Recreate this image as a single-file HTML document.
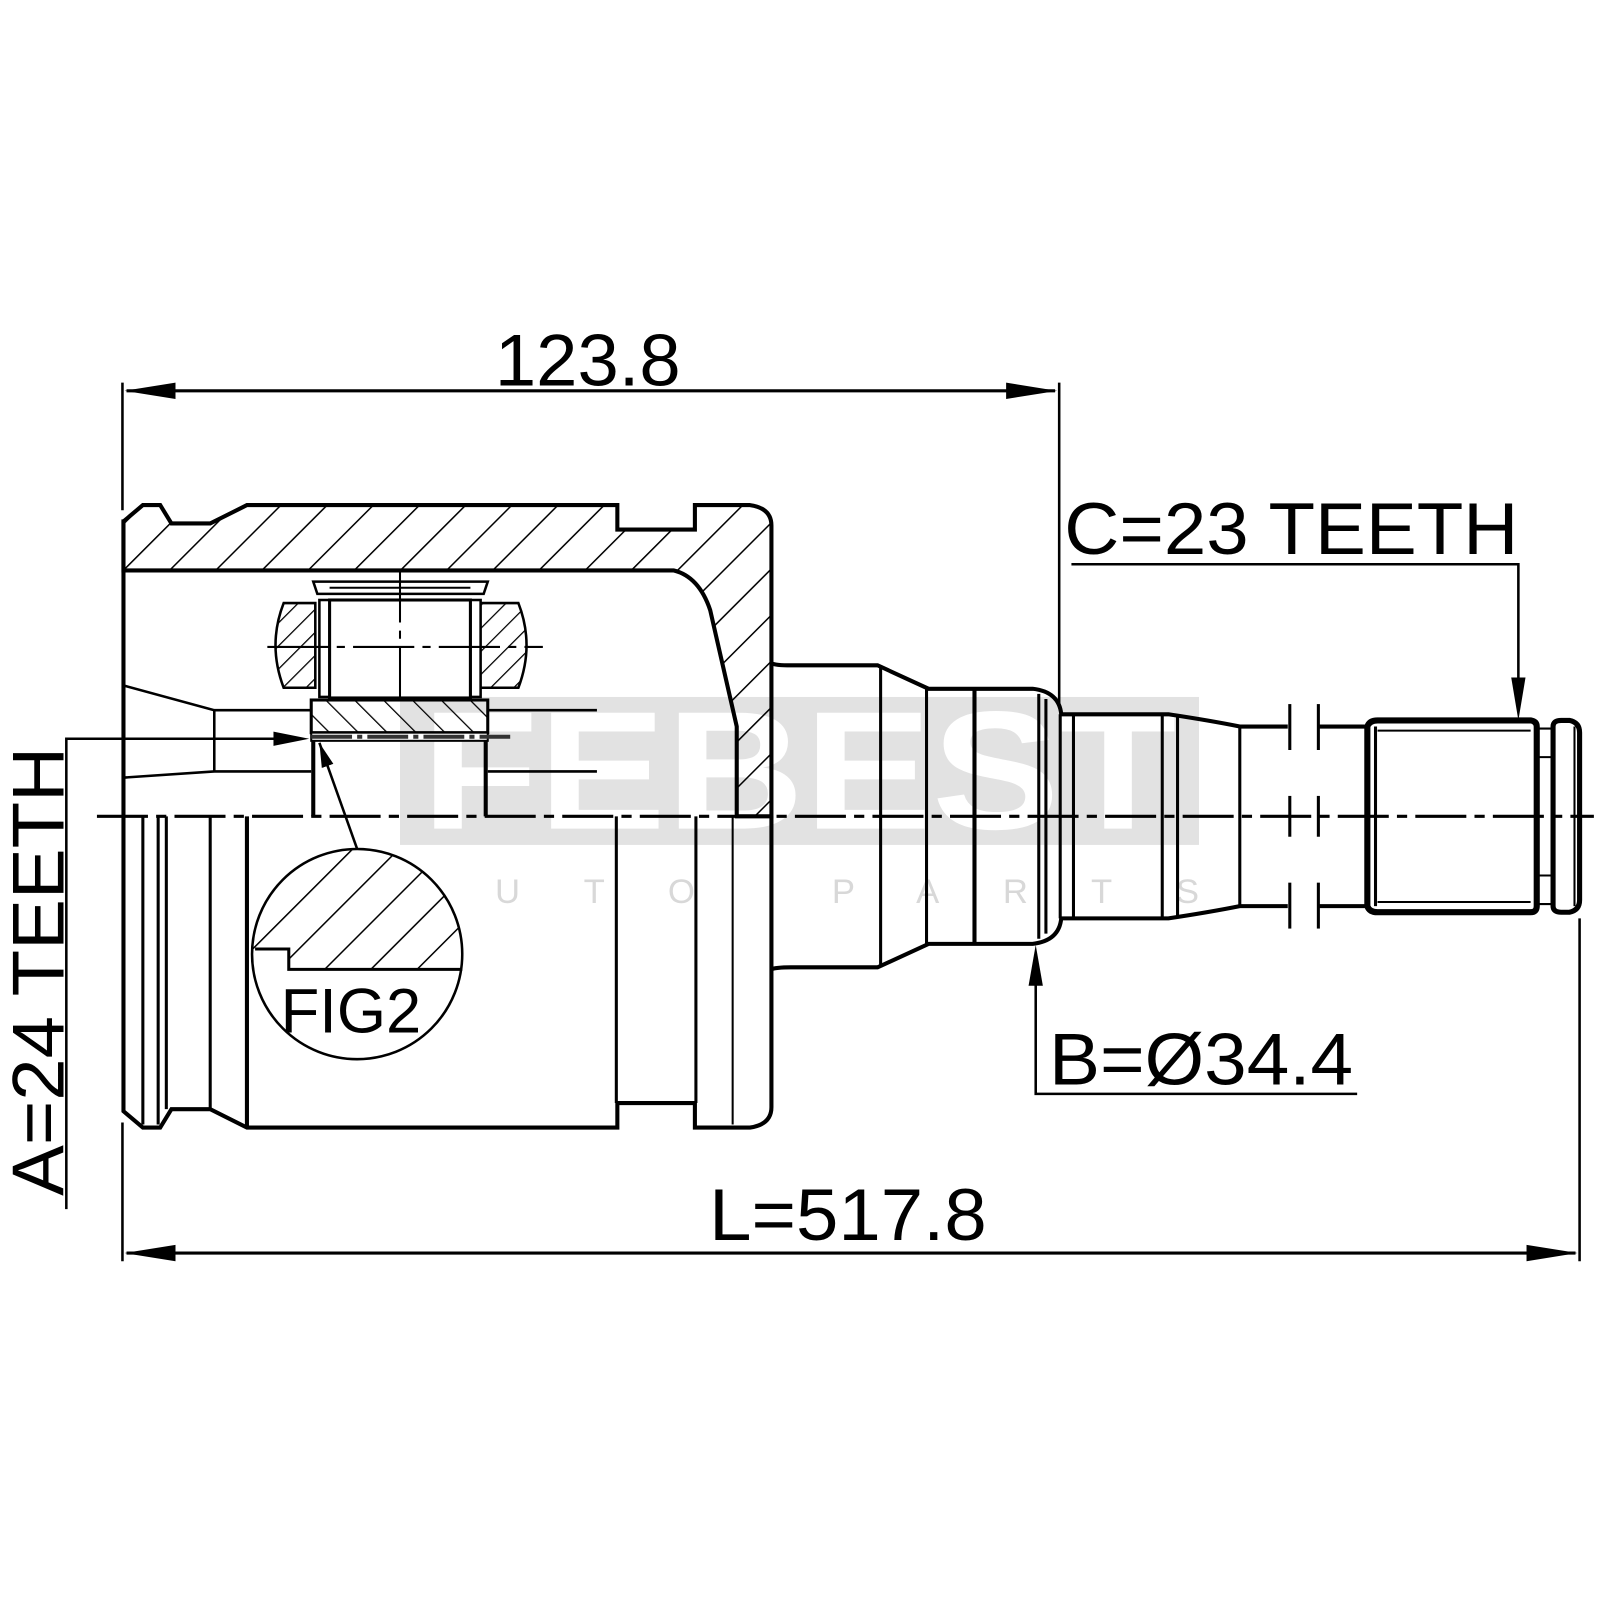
<!DOCTYPE html>
<html><head><meta charset="utf-8"><style>html,body{margin:0;padding:0;background:#fff}svg{display:block}</style></head>
<body>
<svg width="1600" height="1600" viewBox="0 0 1568 1568" xmlns="http://www.w3.org/2000/svg" font-family="Liberation Sans, sans-serif">
<defs>
<pattern id="h" patternUnits="userSpaceOnUse" width="32" height="32" patternTransform="rotate(45)">
<line x1="0" y1="0" x2="0" y2="32" stroke="#000" stroke-width="3"/></pattern>
<pattern id="h2" patternUnits="userSpaceOnUse" width="20" height="20" patternTransform="rotate(-45)">
<line x1="0" y1="0" x2="0" y2="20" stroke="#000" stroke-width="2.5"/></pattern>
<pattern id="h3" patternUnits="userSpaceOnUse" width="16" height="16" patternTransform="rotate(45)">
<line x1="0" y1="0" x2="0" y2="16" stroke="#000" stroke-width="2.5"/></pattern>
<marker id="ar" markerWidth="24" markerHeight="12" refX="24" refY="6" orient="auto" markerUnits="userSpaceOnUse"><path d="M0,0 L24,6 L0,12z"/></marker>
</defs>

<!-- watermark -->
<rect x="392" y="683" width="783" height="145" fill="#e2e2e2"/>
<text x="783" y="812" text-anchor="middle" font-size="165" font-weight="bold" fill="#fff" textLength="740" lengthAdjust="spacingAndGlyphs">FEBEST</text>
<text x="400" y="885" font-size="34" fill="#d8d8d8" textLength="775" lengthAdjust="spacing">AUTO PARTS</text>

<!-- housing upper hatch -->
<path d="M121,511 L140,495 L157,495 L168,513 L206,513 L242,495 L605,495 L605,519 L681,519 L681,495 L735,495 Q756,498 756,515 L756,800 L722,800 L722,712 L696,598 Q685,565 660,559 L121,559 Z" fill="url(#h)" stroke="#000" stroke-width="4"/>
<line x1="121" y1="509" x2="121" y2="800" stroke="#000" stroke-width="4"/>

<!-- housing lower outline -->
<path d="M121,800 L121,1089 L140,1105 L157,1105 L168,1087 L206,1087 L242,1105 L605,1105 L605,1081 L681,1081 L681,1105 L735,1105 Q756,1102 756,1085 L756,800" fill="none" stroke="#000" stroke-width="4"/>
<g stroke="#000" stroke-width="3">
<line x1="140" y1="800" x2="140" y2="1102"/><line x1="155" y1="800" x2="155" y2="1102"/><line x1="163" y1="800" x2="163" y2="1087"/>
<line x1="206" y1="800" x2="206" y2="1087"/><line x1="242" y1="800" x2="242" y2="1105" stroke-width="4"/>
<line x1="604" y1="800" x2="604" y2="1081"/><line x1="682" y1="800" x2="682" y2="1081"/><line x1="718" y1="800" x2="718" y2="1102" stroke-width="2"/>
</g>

<!-- inner details left -->
<g stroke="#000" stroke-width="2.5" fill="none">
<path d="M122,672 L210,696 L305,696"/><line x1="210" y1="696" x2="210" y2="756"/><path d="M122,762 L210,756 L305,756"/>
<line x1="478" y1="696" x2="585" y2="696"/><line x1="478" y1="756" x2="585" y2="756"/>
</g>
<!-- spider -->
<rect x="305" y="686" width="173" height="32" fill="url(#h2)" stroke="#000" stroke-width="3"/>
<rect x="305" y="718" width="173" height="8" fill="#fff" stroke="#000" stroke-width="2"/>
<line x1="305" y1="722" x2="500" y2="722" stroke="#333" stroke-width="4" stroke-dasharray="40,5,5,5"/>
<line x1="307" y1="726" x2="307" y2="800" stroke="#000" stroke-width="4"/>
<line x1="476" y1="726" x2="476" y2="800" stroke="#000" stroke-width="4"/>
<path d="M278,591 L309,591 L309,674 L278,674 Q262,632 278,591Z" fill="url(#h3)" stroke="#000" stroke-width="2.5"/>
<path d="M461,591 L508,591 Q524,632 508,674 L461,674Z" fill="url(#h3)" stroke="#000" stroke-width="2.5"/>
<rect x="313" y="588" width="10" height="95" fill="#fff" stroke="#000" stroke-width="2.5"/>
<rect x="461" y="588" width="10" height="95" fill="#fff" stroke="#000" stroke-width="2.5"/>
<rect x="323" y="588" width="138" height="96" fill="#fff" stroke="#000" stroke-width="3"/>
<path d="M307,570 L478,570 L474,582 L311,582Z" fill="#fff" stroke="#000" stroke-width="2.5"/>
<line x1="323" y1="576" x2="461" y2="576" stroke="#000" stroke-width="2"/>
<line x1="262" y1="634" x2="532" y2="634" stroke="#000" stroke-width="2" stroke-dasharray="60,8,8,8"/>
<line x1="392" y1="560" x2="392" y2="690" stroke="#000" stroke-width="2" stroke-dasharray="50,8,8,8"/>

<!-- FIG2 -->
<circle cx="350" cy="935" r="103" fill="#fff" stroke="#000" stroke-width="2.5"/>
<clipPath id="cc"><circle cx="350" cy="935" r="102"/></clipPath>
<path d="M240,930 L283,930 L283,950 L460,950 L460,820 L240,820Z" fill="url(#h)" clip-path="url(#cc)"/>
<path d="M250,930 L283,930 L283,950 L453,950" fill="none" stroke="#000" stroke-width="3"/>
<text x="275" y="1012" font-size="62">FIG2</text>
<line x1="350" y1="832" x2="313" y2="728" stroke="#000" stroke-width="2.5" marker-end="url(#ar)"/>

<!-- shaft -->
<g fill="none" stroke="#000" stroke-width="4">
<path d="M756,650 Q760,652 775,652 L860,652 L910,675 L1012,675 Q1038,678 1040,700 L1145,700 Q1185,706 1215,712 L1262,712"/>
<path d="M756,950 Q760,948 775,948 L860,948 L910,925 L1012,925 Q1038,922 1040,900 L1145,900 Q1185,894 1215,888 L1262,888"/>
<path d="M1293,712 L1340,712"/><path d="M1293,888 L1340,888"/>
<path d="M1340,712 Q1342,706 1350,706 L1500,706 Q1506,707 1506,712 L1506,888 Q1506,894 1500,894 L1350,894 Q1342,894 1340,888 Z" stroke-width="6"/>
<path d="M1522,712 Q1522,706 1530,706 L1538,706 Q1548,708 1548,718 L1548,882 Q1548,892 1538,894 L1530,894 Q1522,894 1522,888 Z" stroke-width="5"/>
</g>
<g stroke="#000" stroke-width="3">
<line x1="863" y1="652" x2="863" y2="948"/><line x1="908" y1="675" x2="908" y2="925"/><line x1="955" y1="675" x2="955" y2="925" stroke-width="4"/>
<line x1="1018" y1="680" x2="1018" y2="920"/><line x1="1025" y1="685" x2="1025" y2="915"/>
<line x1="1039" y1="700" x2="1039" y2="900"/><line x1="1052" y1="700" x2="1052" y2="900"/>
<line x1="1139" y1="700" x2="1139" y2="900"/><line x1="1154" y1="702" x2="1154" y2="898"/>
<line x1="1215" y1="712" x2="1215" y2="888"/>
<line x1="1348" y1="712" x2="1348" y2="888"/>
<line x1="1350" y1="716" x2="1500" y2="716" stroke-width="2"/><line x1="1350" y1="884" x2="1500" y2="884" stroke-width="2"/>
<line x1="1506" y1="714" x2="1522" y2="714" stroke-width="2"/><line x1="1506" y1="886" x2="1522" y2="886" stroke-width="2"/>
<line x1="1506" y1="742" x2="1522" y2="742" stroke-width="2"/><line x1="1506" y1="858" x2="1522" y2="858" stroke-width="2"/>
<line x1="1543" y1="712" x2="1543" y2="888" stroke-width="2"/>
<line x1="1264" y1="690" x2="1264" y2="735"/><line x1="1292" y1="690" x2="1292" y2="735"/>
<line x1="1264" y1="865" x2="1264" y2="910"/><line x1="1292" y1="865" x2="1292" y2="910"/>
<line x1="1264" y1="780" x2="1264" y2="820"/><line x1="1292" y1="780" x2="1292" y2="820"/>
</g>

<!-- centerline -->
<line x1="95" y1="800" x2="1562" y2="800" stroke="#000" stroke-width="3" stroke-dasharray="50,8,10,8"/>

<!-- dimensions -->
<g stroke="#000" stroke-width="2.5" fill="none">
<line x1="120" y1="375" x2="120" y2="500"/><line x1="120" y1="1100" x2="120" y2="1236"/>
<line x1="1038" y1="375" x2="1038" y2="690"/>
<line x1="1548" y1="900" x2="1548" y2="1236"/>
<line x1="124" y1="383" x2="1034" y2="383" stroke-width="3"/>
<line x1="124" y1="1228" x2="1544" y2="1228" stroke-width="3"/>
<path d="M1050,553 L1488,553 L1488,690"/>
<path d="M1015,945 L1015,1072 L1330,1072"/>
<path d="M65,1185 L65,724 L285,724"/>
</g>
<g fill="#000">
<path d="M122,383 L172,375 L172,391Z"/><path d="M1036,383 L986,375 L986,391Z"/>
<path d="M122,1228 L172,1220 L172,1236Z"/><path d="M1546,1228 L1496,1220 L1496,1236Z"/>
<path d="M1488,706 L1481,664 L1495,664Z"/>
<path d="M1015,926 L1008,966 L1022,966Z"/>
<path d="M303,724 L268,717 L268,731Z"/>
</g>
<g font-size="72" fill="#000">
<text x="485" y="378" textLength="182" lengthAdjust="spacingAndGlyphs">123.8</text>
<text x="1043" y="543" textLength="445" lengthAdjust="spacingAndGlyphs">C=23 TEETH</text>
<text x="1028" y="1063" textLength="298" lengthAdjust="spacingAndGlyphs">B=Ø34.4</text>
<text x="695" y="1215" textLength="272" lengthAdjust="spacingAndGlyphs">L=517.8</text>
<text transform="translate(62,1172) rotate(-90)" textLength="440" lengthAdjust="spacingAndGlyphs">A=24 TEETH</text>
</g>
</svg>
</body></html>
